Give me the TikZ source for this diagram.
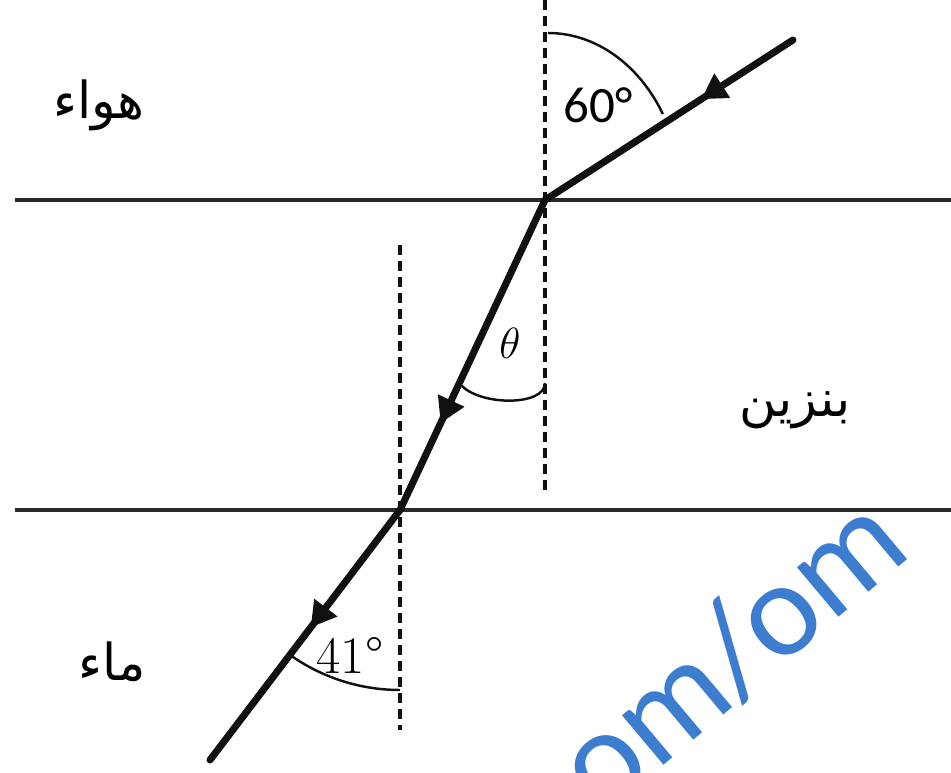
\documentclass[tikz,border=0pt]{standalone}
\usepackage{fontspec}
\usepackage{amsmath}
\usetikzlibrary{arrows.meta,decorations.markings}
\TeXXeTstate=1
\newfontfamily\arabicfont[Script=Arabic]{DejaVu Sans}
\newfontfamily\labelfont{Carlito}
\definecolor{Ink}{HTML}{111111}
\definecolor{Surf}{HTML}{2A2A2A}
\definecolor{Mark}{HTML}{3C7DD0}
\tikzset{
  ray/.style={Ink,line width=4pt,line cap=round},
  normal/.style={Ink,line width=1.9pt,dash pattern=on 0.2cm off 0.12cm},
  surface/.style={Surf,line width=2.1pt},
  anglearc/.style={Ink,line width=1.4pt},
  midarrow/.style={postaction={decorate},decoration={markings,
    mark=at position #1 with {\arrow{Triangle[length=0.5cm,width=0.55cm]}}}},
  medium/.style={font=\arabicfont\fontsize{29}{34}\selectfont}
}

\begin{document}
\begin{tikzpicture}[x=0.02cm,y=0.02cm]
  \useasboundingbox (0,0) rectangle (951,772);
  \clip (0,0) rectangle (951,772);
  % boundaries between the media
  \coordinate (s1w) at (15,572);  \coordinate (s1e) at (951,572);
  \coordinate (s2w) at (15,262);  \coordinate (s2e) at (951,262);
  \draw[surface] (s1w) -- (s1e);
  \draw[surface] (s2w) -- (s2e);
  % points of incidence and normals
  \coordinate (O1) at (545,572);
  \coordinate (O2) at (400,262);
  \coordinate (n1top) at (545,772); \coordinate (n1bot) at (545,282);
  \coordinate (n2top) at (400,527); \coordinate (n2bot) at (400,42);
  \draw[normal] (n1top) -- (n1bot);
  \draw[normal] (n2top) -- (n2bot);
  % light ray
  \coordinate (src) at (793,732);
  \coordinate (out) at (210,12);
  \draw[ray,midarrow=0.37] (src) -- (O1);
  \draw[ray,midarrow=0.72] (O1) -- (O2);
  \draw[ray,midarrow=0.47] (O2) -- (out);
  % angles
  \draw[anglearc] (548,739) arc[start angle=90,end angle=31,x radius=134,y radius=167];
  \draw[anglearc] (545,389) .. controls (545,366) and (482,366) .. (462,386);
  \draw[anglearc] (400,82) arc[start angle=-90,end angle=-126,radius=190];
  \node[font=\labelfont\fontsize{29}{34}\selectfont] (a60) at (598,667) {60\textdegree};
  \node[font=\fontsize{30}{34}\selectfont] (th) at (510,429) {$\theta$};
  \node[font=\fontsize{30}{34}\selectfont] (a41) at (350,117) {41\textdegree};
  % media
  \node[medium] (air) at (99,667) {\beginR هواء\endR};
  \node[medium] (benz) at (795,362) {\beginR بنزين\endR};
  \node[medium] (water) at (112,110) {\beginR ماء\endR};
  % watermark
  \node[Mark,font=\labelfont\fontsize{77}{88}\selectfont,inner sep=0pt,rotate=40,anchor=base east] (wm) at (915,218) {com/om};
\end{tikzpicture}
\end{document}
